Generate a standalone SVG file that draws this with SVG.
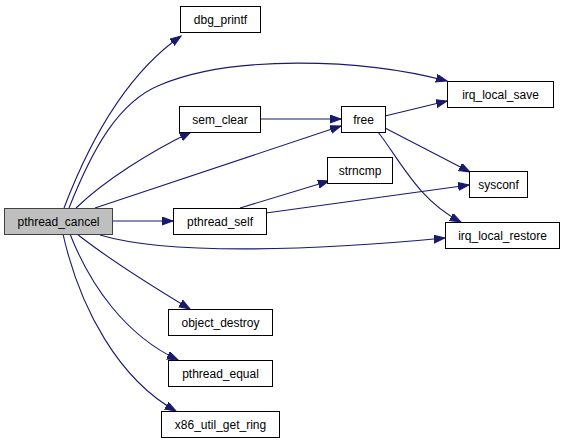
<svg xmlns="http://www.w3.org/2000/svg" width="565" height="443" viewBox="0 0 565 443">
<style>
.n rect{fill:#ffffff;stroke:#000000;stroke-width:1}
.n text{font-family:"Liberation Sans",Arial,sans-serif;font-size:12px;fill:#000000;text-anchor:middle}
#pthread_cancel rect{fill:#bfbfbf;stroke:#404040}
.e path{fill:none;stroke:#191970;stroke-width:1.1;marker-end:url(#ah)}
</style>
<defs>
<marker id="ah" markerUnits="userSpaceOnUse" markerWidth="12" markerHeight="9" refX="11" refY="4" orient="auto">
<path d="M0,0 L11,4 L0,8 z" fill="#191970" stroke="#191970" stroke-width="1"/>
</marker>
</defs>
<rect width="565" height="443" fill="#ffffff"/>
<g class="e" id="edges">
<path d="M64,208 C88,145 125,75 181,36"/>
<path d="M69,208 C92,150 118,102 160,85 C230,55 360,58 447,81"/>
<path d="M76,208 C105,180 150,152 191,132"/>
<path d="M95,208 L341,126"/>
<path d="M112,221 L173,221"/>
<path d="M100,235 C170,256 320,250 445,238"/>
<path d="M77,234 C110,260 150,285 190,309"/>
<path d="M70,234 C90,285 125,335 178,360"/>
<path d="M63,234 C80,310 120,380 176,411"/>
<path d="M260,119 L341,119"/>
<path d="M385,116 L447,101"/>
<path d="M385,128 L470,172"/>
<path d="M378,132 C400,160 418,200 461,222"/>
<path d="M240,208 L329,181"/>
<path d="M266,213 L469,185"/>
</g>
<g class="n" id="pthread_cancel"><rect x="4.5" y="208.5" width="108" height="26"/><text x="58.5" y="225.5">pthread_cancel</text></g>
<g class="n" id="dbg_printf"><rect x="180.5" y="6.5" width="80" height="26"/><text x="220.5" y="23.5">dbg_printf</text></g>
<g class="n" id="sem_clear"><rect x="179.5" y="106.5" width="81" height="26"/><text x="220" y="123.5">sem_clear</text></g>
<g class="n" id="free"><rect x="341.5" y="106.5" width="44" height="26"/><text x="363.5" y="123.5">free</text></g>
<g class="n" id="irq_local_save"><rect x="447.5" y="81.5" width="106" height="26"/><text x="500.5" y="98.5">irq_local_save</text></g>
<g class="n" id="sysconf"><rect x="469.5" y="171.5" width="58" height="26"/><text x="498.5" y="188.5">sysconf</text></g>
<g class="n" id="irq_local_restore"><rect x="445.5" y="222.5" width="114" height="26"/><text x="502.5" y="239.5">irq_local_restore</text></g>
<g class="n" id="pthread_self"><rect x="173.5" y="208.5" width="93" height="26"/><text x="220" y="225.5">pthread_self</text></g>
<g class="n" id="strncmp"><rect x="327.5" y="157.5" width="65" height="26"/><text x="360" y="174.5">strncmp</text></g>
<g class="n" id="object_destroy"><rect x="168.5" y="309.5" width="104" height="26"/><text x="220.5" y="326.5">object_destroy</text></g>
<g class="n" id="pthread_equal"><rect x="168.5" y="360.5" width="104" height="26"/><text x="220.5" y="377.5">pthread_equal</text></g>
<g class="n" id="x86_util_get_ring"><rect x="161.5" y="411.5" width="118" height="26"/><text x="220.5" y="428.5">x86_util_get_ring</text></g>
</svg>
